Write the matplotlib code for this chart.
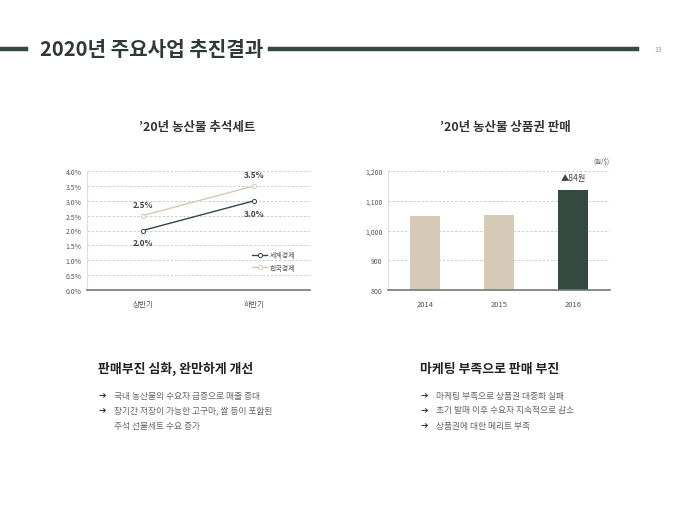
import matplotlib
matplotlib.use("Agg")
import matplotlib.pyplot as plt
from matplotlib.lines import Line2D

plt.rcParams['font.family'] = ['Noto Sans CJK KR', 'DejaVu Sans']

# data
halves = ["상반기", "하반기"]
world = [2.0, 3.0]
korea = [2.5, 3.5]
pct_ticks = [0.0, 0.5, 1.0, 1.5, 2.0, 2.5, 3.0, 3.5, 4.0]

years = ["2014", "2015", "2016"]
sales = [1048, 1052, 1136]
sale_ticks = [800, 900, 1000, 1100, 1200]

left_bullets = ["국내 농산물의 수요자 급증으로 매출 증대",
                "장기간 저장이 가능한 고구마, 쌀 등이 포함된",
                "주석 선물세트 수요 증가"]
right_bullets = ["마케팅 부족으로 상품권 대중화 실패",
                 "초기 발매 이후 수요자 지속적으로 감소",
                 "상품권에 대한 메리트 부족"]

DARK = "#334a40"
BEIGE = "#d4cab5"
GRID = "#c8c8c8"
TXT = "#333333"

W, H = 680, 510
fig = plt.figure(figsize=(6.8, 5.1), dpi=100)


def px(x, y):
    return x / W, 1 - y / H


# header
fig.add_artist(Line2D([0, 26 / W], [1 - 50 / H] * 2, color=DARK, lw=3.2))
fig.add_artist(Line2D([270 / W, 637 / W], [1 - 50 / H] * 2, color=DARK, lw=3.2))
fig.text(*px(40, 50), "2020년 주요사업 추진결과", fontsize=14.5, fontweight="bold",
         color="#2f3a35", va="center", ha="left")
fig.text(*px(658, 50), "13", fontsize=5, color="#999999", va="center", ha="center")

# chart titles
fig.text(*px(197, 127), "’20년 농산물 추석세트", fontsize=9, fontweight="bold",
         color=TXT, ha="center", va="center")
fig.text(*px(505, 127), "’20년 농산물 상품권 판매", fontsize=9, fontweight="bold",
         color=TXT, ha="center", va="center")


def style_axes(ax):
    for s in ["top", "right"]:
        ax.spines[s].set_visible(False)
    ax.spines["left"].set_color("#dddddd")
    ax.spines["left"].set_linewidth(0.8)
    ax.spines["bottom"].set_color("#6f7a74")
    ax.spines["bottom"].set_linewidth(1.2)
    ax.tick_params(length=0, labelsize=5, colors="#555555", pad=4)
    ax.tick_params(axis="x", labelsize=5.5, pad=7)
    ax.grid(axis="y", color=GRID, linestyle=(0, (3, 2)), linewidth=0.6)
    ax.set_axisbelow(True)


# left line chart
ax1 = fig.add_axes([87 / W, 1 - 291 / H, 223 / W, 119 / H])
style_axes(ax1)
x = range(len(halves))
ax1.plot(x, world, color=DARK, lw=1.0, marker="o", ms=3, mfc="white", mec=DARK,
         mew=0.7, label="세계경제")
ax1.plot(x, korea, color=BEIGE, lw=1.0, marker="o", ms=3, mfc="white", mec=BEIGE,
         mew=0.7, label="한국경제")
ax1.set_xlim(-0.5, 1.5)
ax1.set_ylim(0, 4.0)
ax1.set_yticks(pct_ticks)
ax1.set_yticklabels([f"{v:.1f}%" for v in pct_ticks])
ax1.set_xticks(list(x))
ax1.set_xticklabels(halves)
for i in x:
    ax1.annotate(f"{korea[i]:.1f}%", (i, korea[i]), xytext=(0, 8), textcoords="offset points",
                 ha="center", va="center", fontsize=6, fontweight="bold", color="#444444")
    ax1.annotate(f"{world[i]:.1f}%", (i, world[i]), xytext=(0, -9), textcoords="offset points",
                 ha="center", va="center", fontsize=6, fontweight="bold", color="#444444")
leg = ax1.legend(loc="lower right", bbox_to_anchor=(0.96, 0.1), frameon=False, fontsize=5,
                 handlelength=2.2, labelspacing=0.7, handletextpad=0.3)
for t in leg.get_texts():
    t.set_color("#555555")

# right bar chart
ax2 = fig.add_axes([388 / W, 1 - 291 / H, 222 / W, 119 / H])
style_axes(ax2)
colors = [BEIGE, BEIGE, DARK]
xb = range(len(years))
ax2.bar(xb, sales, width=0.4, color=colors, bottom=0)
ax2.set_xlim(-0.5, 2.5)
ax2.set_ylim(800, 1200)
ax2.set_yticks(sale_ticks)
ax2.set_yticklabels([f"{v:,}" for v in sale_ticks])
ax2.set_xticks(list(xb))
ax2.set_xticklabels(years)
ax2.annotate(f"▲{sales[2] - sales[1]}원", (2, sales[2]), xytext=(0, 6),
             textcoords="offset points", ha="center", va="bottom", fontsize=6,
             color="#444444")
fig.text(*px(610, 162), "(원/$)", fontsize=4.5, color="#555555", ha="right", va="center")

# bottom text sections
def section(x0, y0, title, lines):
    fig.text(*px(x0, y0), title, fontsize=9.3, fontweight="bold", color="#222222",
             ha="left", va="center")
    for j, line in enumerate(lines):
        y = y0 + 27 + j * 15
        if not (title.startswith("판매") and j == 2):
            fig.text(*px(x0, y), "➔", fontsize=6.5, fontweight="bold", color="#333333",
                     ha="left", va="center", family=["DejaVu Sans"])
        fig.text(*px(x0 + 16, y), line, fontsize=6.3, color="#666666", ha="left", va="center")


section(98, 369, "판매부진 심화, 완만하게 개선", left_bullets)
section(420, 369, "마케팅 부족으로 판매 부진", right_bullets)

fig.savefig("out.png", dpi=100, facecolor="white")
